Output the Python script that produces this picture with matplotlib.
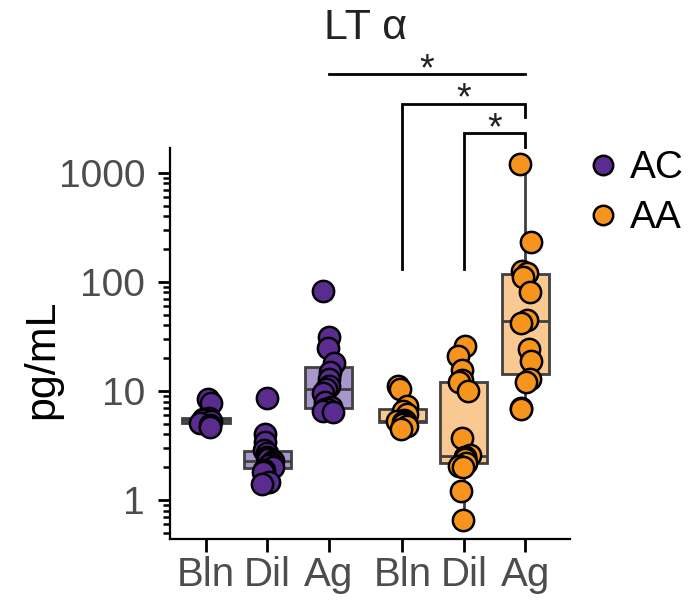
import matplotlib.pyplot as plt
import numpy as np
from matplotlib import cbook
from matplotlib.lines import Line2D
from matplotlib.ticker import NullFormatter

plt.rcParams['font.family'] = ['Liberation Sans', 'DejaVu Sans']

# data (pg/mL)
groups = ["AC", "AA"]
conditions = ["Bln", "Dil", "Ag"]
ac_bln = [8.5, 7.8, 5.7, 5.5, 5.4, 5.3, 5.1, 4.9, 4.7]
ac_dil = [8.6, 4.0, 3.4, 2.9, 2.7, 2.5, 2.4, 2.3, 2.2, 2.1, 2.0, 1.9, 1.8, 1.45, 1.4]
ac_ag = [82, 31, 25, 18, 15, 13, 11, 10.5, 9.5, 8, 7.1, 6.9, 6.8, 6.6, 6.4]
aa_bln = [11, 10.5, 7.3, 6.6, 6.2, 5.4, 5.3, 5.25, 5.2, 5.0, 4.8, 4.5]
aa_dil = [26, 21, 15.5, 12.5, 12, 10, 3.7, 2.6, 2.5, 2.5, 2.4, 2.2, 2.05, 2.0, 1.2, 0.65]
aa_ag = [1200, 230, 125, 120, 110, 80, 45, 42, 24, 19, 13, 12, 7, 6.8]

# significance brackets: (from, to) group index, stars
comp_from = [2, 3, 4]
comp_to = [5, 5, 5]
comp_labels = ["*", "*", "*"]

colors = {"AC": "#5B2C8F", "AA": "#F7941E"}
fills = {"AC": "#A897CA", "AA": "#FAC992"}
edge = "#404040"

positions = [1, 2, 3, 4.2, 5.2, 6.2]
series = [(ac_bln, "AC"), (ac_dil, "AC"), (ac_ag, "AC"),
          (aa_bln, "AA"), (aa_dil, "AA"), (aa_ag, "AA")]

fig, ax = plt.subplots(figsize=(6.9, 6.01), dpi=100)
fig.subplots_adjust(left=0.2464, right=0.826, bottom=0.103, top=0.754)
ax.set_yscale('log')

rng = np.random.default_rng(7)
for pos, (vals, grp) in zip(positions, series):
    v = np.array(vals, dtype=float)
    # stats on log scale, like ggplot with a log10 y scale
    st = cbook.boxplot_stats(np.log10(v))[0]
    for k in ('med', 'q1', 'q3', 'whislo', 'whishi'):
        st[k] = 10 ** st[k]
    st['fliers'] = []
    ax.bxp([st], positions=[pos], widths=0.77, showfliers=False, showcaps=False,
           patch_artist=True,
           boxprops=dict(facecolor=fills[grp], edgecolor=edge, linewidth=2.0),
           medianprops=dict(color=edge, linewidth=2.0),
           whiskerprops=dict(color=edge, linewidth=2.0))
    x = pos + rng.uniform(-0.1, 0.1, len(v))
    ax.scatter(x, v, s=235, c=colors[grp], edgecolors='black', linewidths=1.8, zorder=3, clip_on=False)

ax.set_xlim(0.413, 6.93)
ax.set_ylim(0.438, 1694)
ax.set_xticks(positions)
ax.set_xticklabels(conditions * 2, fontsize=29, color='#4d4d4d')
ax.set_yticks([1, 10, 100, 1000])
ax.set_yticklabels(['1', '10', '100', '1000'], fontsize=28, color='#4d4d4d')
ax.yaxis.set_minor_formatter(NullFormatter())
ax.tick_params(which='major', length=9, width=2, color='black')
ax.tick_params(axis='y', which='major', pad=9)
ax.tick_params(axis='x', which='major', pad=3)
ax.tick_params(which='minor', length=5, width=1.8, color='black')
for s in ('top', 'right'):
    ax.spines[s].set_visible(False)
for s in ('left', 'bottom'):
    ax.spines[s].set_linewidth(1.6)

ax.set_ylabel('pg/mL', fontsize=31, color='black')
ax.yaxis.set_label_coords(-0.27, 0.46)

fig.text(0.529, 0.953, "LT α", ha='center', va='center', fontsize=31, color='#222222')

# brackets
ymax = ax.get_ylim()[1]
bar_y = [ymax * 4.8, ymax * 2.55, ymax * 1.38]
left_end = [None, 131, 131]
right_end = [None, ymax * 1.9, ymax * 1.02]
for i in range(len(comp_from)):
    x1, x2 = positions[comp_from[i]], positions[comp_to[i]]
    xs = [x1, x2]
    ys = [bar_y[i], bar_y[i]]
    if left_end[i] is not None:
        xs = [x1, x1, x2, x2]
        ys = [left_end[i], bar_y[i], bar_y[i], right_end[i]]
    ax.plot(xs, ys, color='black', lw=2, clip_on=False, solid_joinstyle='miter')
    ax.annotate(comp_labels[i], xy=((x1 + x2) / 2, bar_y[i]), xytext=(0, -4.5),
                textcoords='offset points', ha='center', va='baseline', fontsize=27,
                color='#222222', annotation_clip=False)

handles = [Line2D([], [], marker='o', ls='', markerfacecolor=colors[g],
                  markeredgecolor='black', markersize=14, markeredgewidth=1.8) for g in groups]
fig.legend(handles, groups, loc='upper left', bbox_to_anchor=(0.817, 0.776), frameon=False,
           fontsize=28, handletextpad=0.1, labelspacing=0.36, borderaxespad=0, handlelength=1.2)

fig.savefig('out.png', dpi=100)
